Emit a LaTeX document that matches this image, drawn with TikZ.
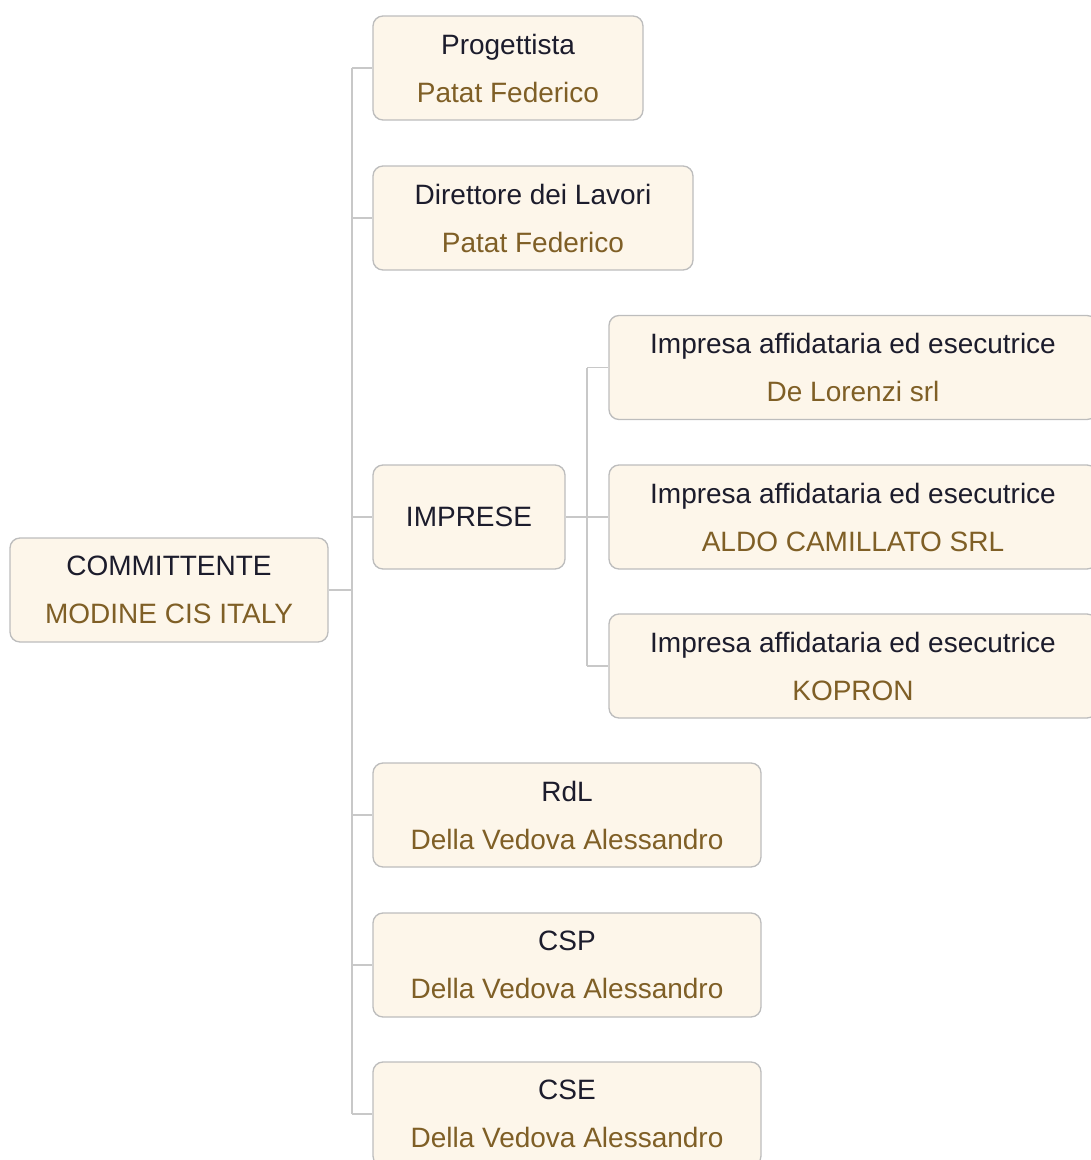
\documentclass[tikz,border=0pt]{standalone}
\usepackage{fontspec}
\setmainfont{Liberation Sans}
\usepackage{xcolor}
\definecolor{boxfill}{HTML}{FDF6EA}
\definecolor{boxline}{HTML}{BDBDBD}
\definecolor{linkgray}{HTML}{C8C8C8}
\definecolor{titletext}{HTML}{1C1C2C}
\definecolor{subtext}{HTML}{7F5F26}
\newcommand{\role}[2]{#1\\{\color{subtext}#2}}
\begin{document}
\begin{tikzpicture}[x=0.75pt, y=-0.75pt,
    box/.style={draw=boxline, line width=1pt, fill=boxfill, rounded corners=7.5pt,
        minimum height=78pt, align=center, text=titletext, inner sep=0pt,
        font=\fontsize{21}{36}\selectfont},
    link/.style={draw=linkgray, line width=1.3pt}]
    \useasboundingbox (0,0) rectangle (1091,1160);
    \clip (0,0) rectangle (1091,1160);
    % root and first level
    \node[box, minimum width=238.5pt] (comm) at (169,590) {\role{COMMITTENTE}{MODINE CIS ITALY}};
    \node[box, minimum width=202.5pt] (prog) at (508,68) {\role{Progettista}{Patat Federico}};
    \node[box, minimum width=240pt] (dir) at (533,218) {\role{Direttore dei Lavori}{Patat Federico}};
    \node[box, minimum width=144pt] (impr) at (469,517) {IMPRESE};
    \node[box, minimum width=291pt] (rdl) at (567,815) {\role{RdL}{Della Vedova Alessandro}};
    \node[box, minimum width=291pt] (csp) at (567,965) {\role{CSP}{Della Vedova Alessandro}};
    \node[box, minimum width=291pt] (cse) at (567,1114) {\role{CSE}{Della Vedova Alessandro}};
    % companies
    \node[box, minimum width=366pt] (imp1) at (853,367.5) {\role{Impresa affidataria ed esecutrice}{De Lorenzi srl}};
    \node[box, minimum width=366pt] (imp2) at (853,517) {\role{Impresa affidataria ed esecutrice}{ALDO CAMILLATO SRL}};
    \node[box, minimum width=366pt] (imp3) at (853,666) {\role{Impresa affidataria ed esecutrice}{KOPRON}};
    % connectors
    \coordinate (trunk) at (352,590);
    \coordinate (branch) at (587,517);
    \draw[link] (comm.east) -- (trunk);
    \draw[link] (trunk |- prog.west) -- (trunk |- cse.west);
    \foreach \n in {prog,dir,impr,rdl,csp,cse}
        \draw[link] (trunk |- \n.west) -- (\n.west);
    \draw[link] (impr.east) -- (branch);
    \draw[link] (branch |- imp1.west) -- (branch |- imp3.west);
    \foreach \n in {imp1,imp2,imp3}
        \draw[link] (branch |- \n.west) -- (\n.west);
\end{tikzpicture}
\end{document}
